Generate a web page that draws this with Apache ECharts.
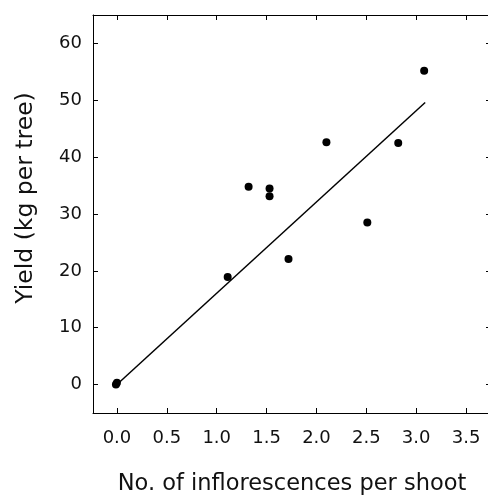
<!DOCTYPE html>
<html>
<head>
<meta charset="utf-8">
<script src="https://cdn.jsdelivr.net/npm/echarts@6/dist/echarts.min.js"></script>
<style>
  html, body { margin: 0; padding: 0; background: #fff; }
  #chart { width: 488px; height: 498px; }
</style>
</head>
<body>
<div id="chart"></div>
<script>
// Inflorescences per shoot vs. yield per tree
const inflorescences = [0, -0.01, 1.11, 1.32, 1.53, 1.53, 1.72, 2.10, 2.51, 2.82, 3.08];
const yieldKg        = [0.3, 0.0, 18.9, 34.8, 34.5, 33.1, 22.1, 42.6, 28.5, 42.5, 55.2];

// Fitted line end points
const fitX = [0, 3.09];
const fitY = [0, 49.6];

// Tick positions
const xTicks = [0, 0.5, 1, 1.5, 2, 2.5, 3, 3.5];
const yTicks = [0, 10, 20, 30, 40, 50, 60];

const xName = 'No. of inflorescences per shoot';
const yName = 'Yield (kg per tree)';

const FONT = 'DejaVu Sans';
const points = inflorescences.map((x, i) => [x, yieldKg[i]]);
const fitLine = fitX.map((x, i) => [x, fitY[i]]);

const lineStyle = { color: '#000', width: 1 };
const baseX = {
  type: 'value', min: -0.24, max: 3.75,
  axisLine: { show: true, onZero: false, lineStyle },
  axisTick: { show: true, inside: true, length: 5, lineStyle, customValues: xTicks },
  splitLine: { show: false }
};
const baseY = {
  type: 'value', min: -5, max: 65,
  axisLine: { show: true, onZero: false, lineStyle },
  axisTick: { show: true, inside: true, length: 5, lineStyle, customValues: yTicks },
  splitLine: { show: false }
};

const chart = echarts.init(document.getElementById('chart'), null, { renderer: 'canvas' });
chart.setOption({
  animation: false,
  backgroundColor: '#fff',
  grid: { left: 93, right: -3, top: 15, height: 398, outerBoundsMode: 'none', containLabel: false },
  xAxis: [
    Object.assign({}, baseX, {
      position: 'bottom',
      name: xName, nameLocation: 'middle', nameGap: 60,
      nameTextStyle: { fontFamily: FONT, fontSize: 22.5, color: '#111' },
      axisLabel: {
        show: true, margin: 16, customValues: xTicks,
        fontFamily: FONT, fontSize: 18, color: '#111',
        formatter: v => v.toFixed(1)
      }
    }),
    Object.assign({}, baseX, { position: 'top', axisLabel: { show: false } })
  ],
  yAxis: [
    Object.assign({}, baseY, {
      position: 'left',
      axisLabel: {
        show: true, margin: 11, customValues: yTicks,
        fontFamily: FONT, fontSize: 18, color: '#111'
      }
    }),
    // right frame edge lies at the canvas border: only its ticks show
    Object.assign({}, baseY, {
      position: 'right',
      axisLine: { show: false, onZero: false },
      axisLabel: { show: false }
    })
  ],
  graphic: [{
    type: 'text',
    x: 26, y: 198,
    rotation: Math.PI / 2,
    style: {
      text: yName, fontFamily: FONT, fontSize: 23.5, fill: '#111',
      align: 'center', verticalAlign: 'middle'
    }
  }],
  series: [
    {
      type: 'line', data: fitLine, showSymbol: false, symbol: 'none',
      lineStyle: { color: '#000', width: 1.5 }, silent: true, z: 2
    },
    {
      type: 'scatter', data: points, symbol: 'circle', symbolSize: 8,
      itemStyle: { color: '#000', opacity: 1 }, z: 3
    }
  ]
});
</script>
</body>
</html>
